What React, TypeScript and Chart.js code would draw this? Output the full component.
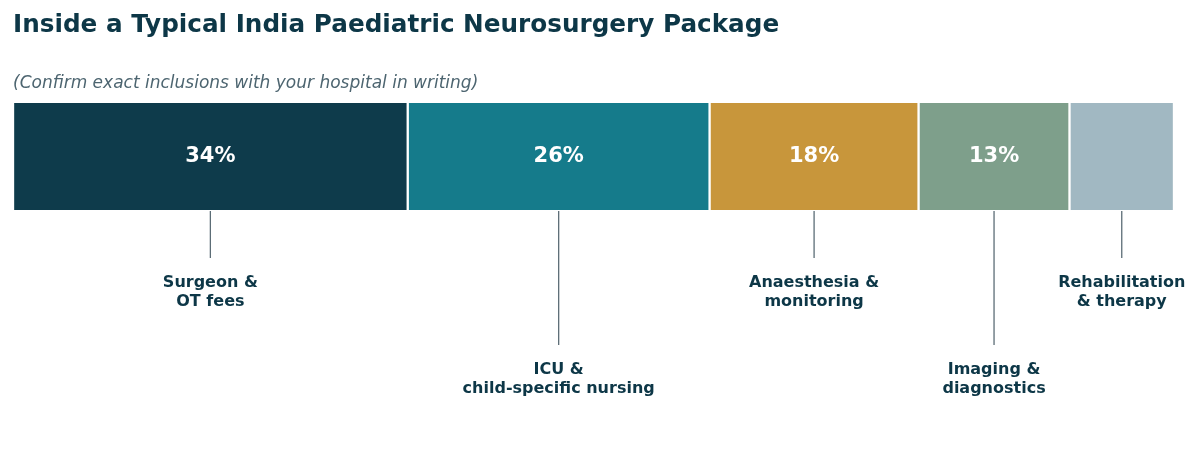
import { useEffect, useRef } from 'react';
import { Chart, registerables } from 'chart.js';

Chart.register(...registerables);

// Данные пакета
const CATEGORIES = [
  'Surgeon &\nOT fees',
  'ICU &\nchild-specific nursing',
  'Anaesthesia &\nmonitoring',
  'Imaging &\ndiagnostics',
  'Rehabilitation\n& therapy',
];
const SHARES = [34, 26, 18, 13, 9];
const COLORS = ['#0e3b4b', '#157b8b', '#c8963b', '#7e9f8b', '#a1b8c2'];
// короткая / длинная выноска
const LEADER_LONG = [false, true, false, true, false];

const TITLE = 'Inside a Typical India Paediatric Neurosurgery Package';
const SUBTITLE = '(Confirm exact inclusions with your hospital in writing)';

const FONT = "'DejaVu Sans', sans-serif";
const TEXT_DARK = '#0d3747';

const annotations = {
  id: 'annotations',
  afterDraw(chart: Chart) {
    const { ctx, chartArea } = chart;
    const xScale = chart.scales.x;
    ctx.save();

    // заголовок и подзаголовок
    ctx.textAlign = 'left';
    ctx.textBaseline = 'alphabetic';
    ctx.fillStyle = TEXT_DARK;
    ctx.font = `bold 24.7px ${FONT}`;
    ctx.fillText(TITLE, 13, 32);
    ctx.fillStyle = '#4d6570';
    ctx.font = `italic 17px ${FONT}`;
    ctx.fillText(SUBTITLE, 13, 88);

    let cum = 0;
    SHARES.forEach((v, i) => {
      const mid = xScale.getPixelForValue(cum + v / 2);
      cum += v;
      const midY = (chartArea.top + chartArea.bottom) / 2;

      // подпись процента внутри сегмента
      if (v >= 10) {
        ctx.fillStyle = '#ffffff';
        ctx.font = `bold 21px ${FONT}`;
        ctx.textAlign = 'center';
        ctx.textBaseline = 'middle';
        ctx.fillText(`${v}%`, mid, midY);
      }

      // выноска
      const lineEnd = LEADER_LONG[i] ? 345 : 258;
      ctx.strokeStyle = '#5c6d76';
      ctx.lineWidth = 1.3;
      ctx.beginPath();
      ctx.moveTo(mid, chartArea.bottom + 1);
      ctx.lineTo(mid, lineEnd);
      ctx.stroke();

      // подпись категории
      ctx.fillStyle = TEXT_DARK;
      ctx.font = `bold 16px ${FONT}`;
      ctx.textAlign = 'center';
      ctx.textBaseline = 'middle';
      const lines = CATEGORIES[i].split('\n');
      const startY = lineEnd + 25;
      lines.forEach((ln, k) => ctx.fillText(ln, mid, startY + k * 19));
    });

    ctx.restore();
  },
};

export default function App() {
  const canvasRef = useRef<HTMLCanvasElement>(null);

  useEffect(() => {
    if (!canvasRef.current) return;
    const chart = new Chart(canvasRef.current, {
      type: 'bar',
      data: {
        labels: ['Package'],
        datasets: SHARES.map((v, i) => ({
          label: CATEGORIES[i].replace('\n', ' '),
          data: [v],
          backgroundColor: COLORS[i],
          borderColor: '#ffffff',
          borderWidth: { top: 0, bottom: 0, left: 1.5, right: 1.5 },
          borderSkipped: false,
          barPercentage: 1,
          categoryPercentage: 1,
        })),
      },
      options: {
        indexAxis: 'y',
        animation: false,
        responsive: true,
        maintainAspectRatio: false,
        layout: { padding: { left: 13, right: 26, top: 103, bottom: 240 } },
        plugins: {
          legend: { display: false },
          title: { display: false },
          tooltip: { enabled: false },
        },
        scales: {
          x: { stacked: true, min: 0, max: 100, display: false },
          y: { stacked: true, display: false },
        },
      },
      plugins: [annotations],
    });
    return () => chart.destroy();
  }, []);

  return (
    <div style={{ position: 'fixed', left: 0, top: 0, width: 1200, height: 450, background: '#fff' }}>
      <canvas ref={canvasRef} />
    </div>
  );
}
